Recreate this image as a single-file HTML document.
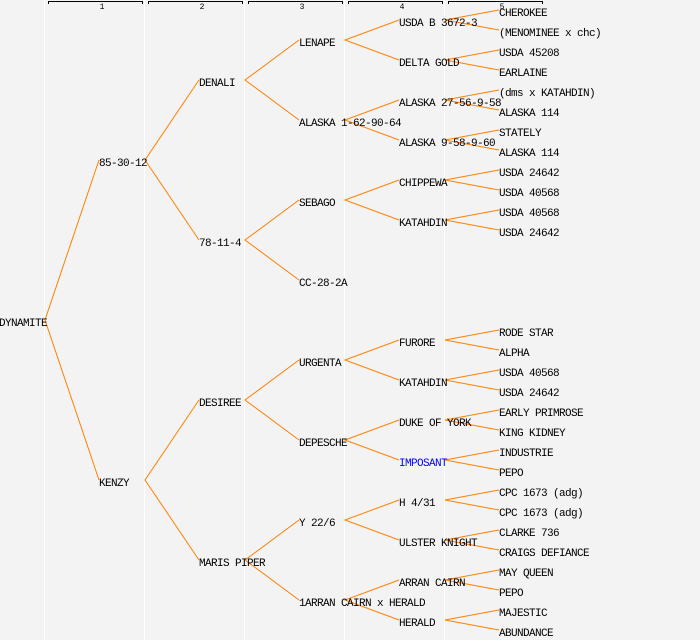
<!DOCTYPE html>
<html><head><meta charset="utf-8"><style>
html,body{margin:0;padding:0;background:#f3f3f3;}
svg{display:block}
text{font-family:"Liberation Mono",monospace;font-size:11px;letter-spacing:-0.6px;fill:#000}
</style></head><body>
<svg width="700" height="640" viewBox="0 0 700 640" xmlns="http://www.w3.org/2000/svg">
<rect width="700" height="640" fill="#f3f3f3"/>
<g stroke="#fff" stroke-width="1">
<line x1="44.5" y1="0" x2="44.5" y2="640"/><line x1="144.5" y1="0" x2="144.5" y2="640"/><line x1="244.5" y1="0" x2="244.5" y2="640"/><line x1="344.5" y1="0" x2="344.5" y2="640"/><line x1="444.5" y1="0" x2="444.5" y2="640"/>
</g>
<g stroke="#000" stroke-width="1" fill="none">
<polyline points="48.5,4 48.5,1.5 142.5,1.5 142.5,4"/>
<polyline points="148.5,4 148.5,1.5 242.5,1.5 242.5,4"/>
<polyline points="248.5,4 248.5,1.5 342.5,1.5 342.5,4"/>
<polyline points="348.5,4 348.5,1.5 442.5,1.5 442.5,4"/>
<polyline points="448.5,4 448.5,1.5 542.5,1.5 542.5,4"/>
</g>
<g text-anchor="middle">
<text x="102" y="9" style="font-size:8px;letter-spacing:0">1</text><text x="202" y="9" style="font-size:8px;letter-spacing:0">2</text><text x="302" y="9" style="font-size:8px;letter-spacing:0">3</text><text x="402" y="9" style="font-size:8px;letter-spacing:0">4</text><text x="502" y="9" style="font-size:8px;letter-spacing:0">5</text>
</g>
<g stroke="#ff8000" stroke-width="1" fill="none">
<polyline points="99,160 45,320 99,480"/>
<polyline points="199,80 145,160 199,240"/>
<polyline points="199,400 145,480 199,560"/>
<polyline points="299,40 245,80 299,120"/>
<polyline points="299,200 245,240 299,280"/>
<polyline points="299,360 245,400 299,440"/>
<polyline points="299,520 245,560 299,600"/>
<polyline points="399,20 345,40 399,60"/>
<polyline points="399,100 345,120 399,140"/>
<polyline points="399,180 345,200 399,220"/>
<polyline points="399,340 345,360 399,380"/>
<polyline points="399,420 345,440 399,460"/>
<polyline points="399,500 345,520 399,540"/>
<polyline points="399,580 345,600 399,620"/>
<polyline points="499,10 445,20 499,30"/>
<polyline points="499,50 445,60 499,70"/>
<polyline points="499,90 445,100 499,110"/>
<polyline points="499,130 445,140 499,150"/>
<polyline points="499,170 445,180 499,190"/>
<polyline points="499,210 445,220 499,230"/>
<polyline points="499,330 445,340 499,350"/>
<polyline points="499,370 445,380 499,390"/>
<polyline points="499,410 445,420 499,430"/>
<polyline points="499,450 445,460 499,470"/>
<polyline points="499,490 445,500 499,510"/>
<polyline points="499,530 445,540 499,550"/>
<polyline points="499,570 445,580 499,590"/>
<polyline points="499,610 445,620 499,630"/>
</g>
<text x="-1" y="326">DYNAMITE</text>
<text x="99" y="166">85-30-12</text>
<text x="99" y="486">KENZY</text>
<text x="199" y="86">DENALI</text>
<text x="199" y="246">78-11-4</text>
<text x="199" y="406">DESIREE</text>
<text x="199" y="566">MARIS PIPER</text>
<text x="299" y="46">LENAPE</text>
<text x="299" y="126">ALASKA 1-62-90-64</text>
<text x="299" y="206">SEBAGO</text>
<text x="299" y="286">CC-28-2A</text>
<text x="299" y="366">URGENTA</text>
<text x="299" y="446">DEPESCHE</text>
<text x="299" y="526">Y 22/6</text>
<text x="299" y="606">1ARRAN CAIRN x HERALD</text>
<text x="399" y="26">USDA B 3672-3</text>
<text x="399" y="66">DELTA GOLD</text>
<text x="399" y="106">ALASKA 27-56-9-58</text>
<text x="399" y="146">ALASKA 9-58-9-60</text>
<text x="399" y="186">CHIPPEWA</text>
<text x="399" y="226">KATAHDIN</text>
<text x="399" y="346">FURORE</text>
<text x="399" y="386">KATAHDIN</text>
<text x="399" y="426">DUKE OF YORK</text>
<text x="399" y="466" style="fill:#0000ff">IMPOSANT</text>
<text x="399" y="506">H 4/31</text>
<text x="399" y="546">ULSTER KNIGHT</text>
<text x="399" y="586">ARRAN CAIRN</text>
<text x="399" y="626">HERALD</text>
<text x="499" y="16">CHEROKEE</text>
<text x="499" y="36">(MENOMINEE x chc)</text>
<text x="499" y="56">USDA 45208</text>
<text x="499" y="76">EARLAINE</text>
<text x="499" y="96">(dms x KATAHDIN)</text>
<text x="499" y="116">ALASKA 114</text>
<text x="499" y="136">STATELY</text>
<text x="499" y="156">ALASKA 114</text>
<text x="499" y="176">USDA 24642</text>
<text x="499" y="196">USDA 40568</text>
<text x="499" y="216">USDA 40568</text>
<text x="499" y="236">USDA 24642</text>
<text x="499" y="336">RODE STAR</text>
<text x="499" y="356">ALPHA</text>
<text x="499" y="376">USDA 40568</text>
<text x="499" y="396">USDA 24642</text>
<text x="499" y="416">EARLY PRIMROSE</text>
<text x="499" y="436">KING KIDNEY</text>
<text x="499" y="456">INDUSTRIE</text>
<text x="499" y="476">PEPO</text>
<text x="499" y="496">CPC 1673 (adg)</text>
<text x="499" y="516">CPC 1673 (adg)</text>
<text x="499" y="536">CLARKE 736</text>
<text x="499" y="556">CRAIGS DEFIANCE</text>
<text x="499" y="576">MAY QUEEN</text>
<text x="499" y="596">PEPO</text>
<text x="499" y="616">MAJESTIC</text>
<text x="499" y="636">ABUNDANCE</text>
</svg>
</body></html>
